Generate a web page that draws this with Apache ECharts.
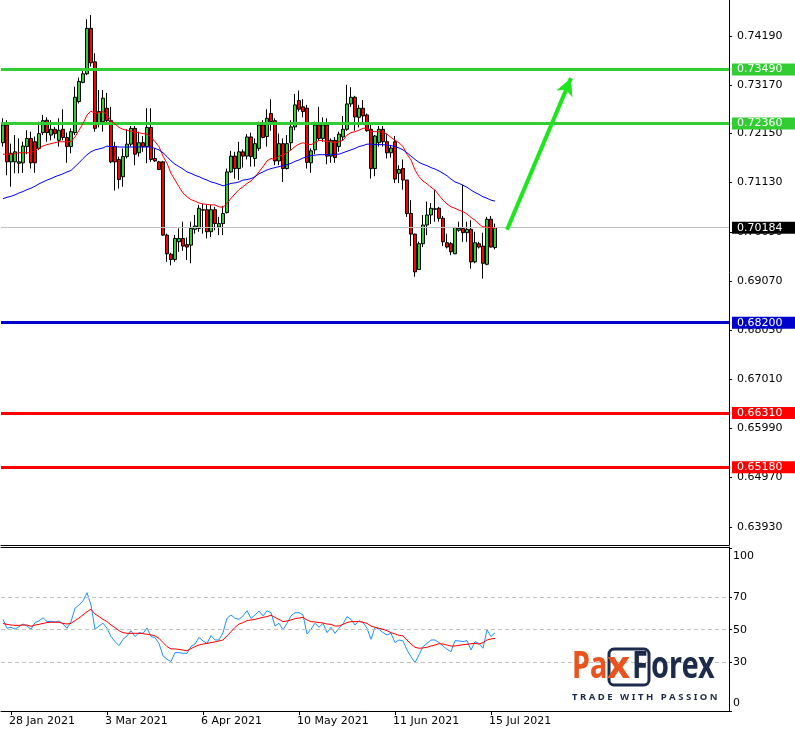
<!DOCTYPE html>
<html><head><meta charset="utf-8">
<script src="https://cdn.jsdelivr.net/npm/echarts@6/dist/echarts.min.js"></script>
<style>html,body{margin:0;padding:0;background:#fff}#c{width:795px;height:730px}</style>
</head><body><div id="c"></div><script>
// ---- data ----
const firstDate = '2021-01-26';
const slotCount = 182; // weekdays shown on the axis (incl. empty future area)
const dateTickLabels = ['2021-01-28','2021-03-03','2021-04-06','2021-05-10','2021-06-11','2021-07-15'];
const priceTicks = [0.7419,0.7317,0.7215,0.7113,0.7009,0.6907,0.6805,0.6701,0.6599,0.6497,0.6393];
const rsiTicks = [0,30,50,70,100];
const rsiLevels = [30,50,70];
const resistanceLevels = [0.7349,0.7236];
const supportLevel = [0.6820];
const targetLevels = [0.6631,0.6518];
const lastPrice = 0.70184;
const arrowFrom = ['2021-07-21',0.7014];
const arrowTo = ['2021-08-12',0.7331];

const opens = [0.7196,0.7233,0.7156,0.7156,0.7153,0.7154,0.7188,0.7205,0.7198,0.7184,0.7217,0.7243,0.7212,0.7224,0.7201,0.7224,0.7207,0.7188,0.7217,0.7282,
0.7322,0.7340,0.7435,0.7365,0.7238,0.7240,0.7268,0.7242,0.7188,0.7161,0.7125,0.7167,0.7193,0.7226,0.7175,0.7196,0.7188,0.7228,0.7163,0.7156,
0.7156,0.7003,0.6963,0.6952,0.6989,0.6996,0.6983,0.6982,0.7015,0.7017,0.7055,0.7056,0.7010,0.7056,0.7020,0.7027,0.7050,0.7135,0.7168,0.7142,
0.7177,0.7168,0.7208,0.7163,0.7184,0.7233,0.7209,0.7257,0.7242,0.7158,0.7194,0.7142,0.7196,0.7229,0.7284,0.7271,0.7268,0.7154,0.7181,0.7233,
0.7205,0.7233,0.7168,0.7201,0.7188,0.7208,0.7224,0.7277,0.7291,0.7249,0.7268,0.7254,0.7224,0.7142,0.7196,0.7224,0.7198,0.7175,0.7198,0.7132,
0.7142,0.7118,0.7048,0.7005,0.6931,0.6985,0.7024,0.7045,0.7057,0.7059,0.7038,0.6987,0.6985,0.6964,0.7013,0.7017,0.7008,0.7015,0.6947,0.6985,
0.6980,0.6942,0.7036,0.6977];
const highs = [0.7247,0.7243,0.7194,0.7212,0.7205,0.7198,0.7222,0.7219,0.7209,0.7240,0.7254,0.7249,0.7243,0.7229,0.7247,0.7266,0.7217,0.7226,0.7313,0.7332,
0.7348,0.7454,0.7463,0.7383,0.7306,0.7306,0.7300,0.7271,0.7198,0.7167,0.7184,0.7224,0.7231,0.7231,0.7219,0.7210,0.7268,0.7268,0.7184,0.7158,
0.7158,0.7006,0.6966,0.7003,0.7017,0.7031,0.6998,0.7031,0.7045,0.7066,0.7068,0.7066,0.7066,0.7062,0.7041,0.7064,0.7142,0.7179,0.7177,0.7198,
0.7182,0.7214,0.7217,0.7205,0.7240,0.7243,0.7266,0.7287,0.7247,0.7215,0.7205,0.7212,0.7243,0.7298,0.7305,0.7287,0.7275,0.7184,0.7240,0.7271,
0.7249,0.7247,0.7205,0.7208,0.7219,0.7252,0.7317,0.7312,0.7294,0.7275,0.7285,0.7257,0.7233,0.7212,0.7231,0.7231,0.7214,0.7190,0.7210,0.7149,
0.7161,0.7118,0.7076,0.7006,0.6989,0.7045,0.7073,0.7070,0.7097,0.7062,0.7043,0.7006,0.6989,0.7020,0.7031,0.7108,0.7031,0.7034,0.7010,0.6989,
0.7008,0.7041,0.7043,0.7027];
const lows = [0.7188,0.7128,0.7104,0.7132,0.7132,0.7133,0.7172,0.7142,0.7133,0.7181,0.7212,0.7198,0.7201,0.7205,0.7188,0.7201,0.7154,0.7174,0.7212,0.7278,
0.7320,0.7337,0.7355,0.7219,0.7228,0.7219,0.7238,0.7153,0.7096,0.7100,0.7104,0.7163,0.7188,0.7149,0.7167,0.7177,0.7153,0.7156,0.7156,0.7139,
0.7001,0.6947,0.6940,0.6947,0.6968,0.6970,0.6951,0.6944,0.7006,0.7010,0.7006,0.6996,0.6999,0.7013,0.7003,0.7003,0.7048,0.7133,0.7121,0.7118,
0.7144,0.7161,0.7146,0.7146,0.7179,0.7205,0.7188,0.7221,0.7149,0.7149,0.7114,0.7140,0.7181,0.7222,0.7261,0.7249,0.7142,0.7133,0.7172,0.7201,
0.7198,0.7151,0.7154,0.7154,0.7177,0.7201,0.7221,0.7271,0.7221,0.7228,0.7235,0.7219,0.7121,0.7126,0.7188,0.7188,0.7163,0.7165,0.7112,0.7112,
0.7098,0.7041,0.6980,0.6916,0.6930,0.6978,0.7003,0.7026,0.7031,0.7031,0.6980,0.6975,0.6961,0.6963,0.7010,0.6989,0.6989,0.6933,0.6944,0.6975,
0.6912,0.6940,0.6977,0.6973];
const closes = [0.7233,0.7156,0.7174,0.7177,0.7156,0.7189,0.7205,0.7154,0.7154,0.7215,0.7242,0.7217,0.7224,0.7215,0.7222,0.7207,0.7188,0.7219,0.7291,0.7324,
0.7340,0.7435,0.7363,0.7226,0.7261,0.7289,0.7242,0.7156,0.7156,0.7119,0.7167,0.7193,0.7226,0.7172,0.7196,0.7188,0.7228,0.7161,0.7158,0.7140,
0.7003,0.6964,0.6952,0.6996,0.6996,0.6980,0.6978,0.7017,0.7022,0.7059,0.7056,0.7010,0.7056,0.7027,0.7027,0.7048,0.7135,0.7168,0.7142,0.7177,
0.7168,0.7208,0.7167,0.7194,0.7233,0.7207,0.7247,0.7240,0.7158,0.7194,0.7142,0.7194,0.7229,0.7275,0.7266,0.7261,0.7155,0.7179,0.7233,0.7205,
0.7233,0.7168,0.7201,0.7165,0.7214,0.7224,0.7277,0.7291,0.7250,0.7268,0.7252,0.7221,0.7142,0.7210,0.7224,0.7198,0.7175,0.7185,0.7120,0.7140,
0.7118,0.7048,0.7005,0.6926,0.6985,0.7024,0.7045,0.7059,0.7058,0.7038,0.6989,0.6978,0.6968,0.7019,0.7017,0.7008,0.7015,0.6947,0.6987,0.6978,
0.6944,0.7036,0.6978,0.70184];
const maFast = [0.7172,0.7172,0.7172,0.7173,0.7175,0.7175,0.7175,0.7175,0.7180,0.7185,0.7189,0.7192,0.7194,0.7196,0.7198,0.7198,0.7198,0.7198,0.7208,0.7222,
0.7236,0.7254,0.7262,0.7257,0.7259,0.7261,0.7254,0.7242,0.7235,0.7228,0.7224,0.7222,0.7220,0.7218,0.7217,0.7215,0.7214,0.7208,0.7198,0.7188,
0.7168,0.7153,0.7132,0.7118,0.7104,0.7091,0.7083,0.7077,0.7074,0.7070,0.7068,0.7067,0.7066,0.7066,0.7062,0.7061,0.7069,0.7080,0.7089,0.7098,
0.7104,0.7111,0.7116,0.7125,0.7135,0.7146,0.7158,0.7163,0.7161,0.7168,0.7170,0.7175,0.7181,0.7188,0.7193,0.7196,0.7193,0.7192,0.7196,0.7201,
0.7200,0.7198,0.7198,0.7196,0.7198,0.7201,0.7212,0.7217,0.7219,0.7222,0.7226,0.7227,0.7220,0.7219,0.7219,0.7218,0.7214,0.7207,0.7201,0.7196,
0.7188,0.7172,0.7160,0.7139,0.7125,0.7116,0.7110,0.7103,0.7097,0.7086,0.7076,0.7068,0.7062,0.7059,0.7055,0.7052,0.7047,0.7040,0.7034,0.7026,
0.7020,0.7020,0.7019,0.7017];
const maSlow = [0.7079,0.7082,0.7084,0.7087,0.7091,0.7094,0.7098,0.7101,0.7105,0.7110,0.7114,0.7118,0.7121,0.7125,0.7128,0.7131,0.7135,0.7138,0.7146,0.7154,
0.7163,0.7171,0.7177,0.7181,0.7183,0.7185,0.7189,0.7188,0.7188,0.7187,0.7187,0.7187,0.7187,0.7187,0.7187,0.7187,0.7187,0.7187,0.7184,0.7181,
0.7175,0.7167,0.7158,0.7151,0.7146,0.7141,0.7135,0.7132,0.7128,0.7125,0.7121,0.7118,0.7114,0.7112,0.7109,0.7106,0.7108,0.7111,0.7112,0.7114,
0.7118,0.7119,0.7121,0.7125,0.7131,0.7135,0.7139,0.7142,0.7144,0.7146,0.7148,0.7150,0.7153,0.7157,0.7160,0.7164,0.7167,0.7169,0.7170,0.7171,
0.7171,0.7171,0.7171,0.7172,0.7172,0.7175,0.7178,0.7181,0.7184,0.7188,0.7190,0.7193,0.7193,0.7192,0.7192,0.7192,0.7191,0.7190,0.7188,0.7185,
0.7181,0.7175,0.7168,0.7161,0.7155,0.7151,0.7148,0.7144,0.7141,0.7137,0.7132,0.7127,0.7120,0.7114,0.7111,0.7107,0.7103,0.7097,0.7092,0.7088,
0.7083,0.7080,0.7076,0.7074];
const rsi = [56.4,50.9,51.5,50.3,51.9,53.5,52.3,50.3,54.4,55.4,57.4,55.0,55.2,54.8,55.4,53.5,50.9,55.0,63.2,65.2,
67.7,72.8,65.2,50.3,52.3,54.0,50.9,45.8,42.7,40.2,44.1,46.2,49.4,45.8,48.2,47.8,51.1,45.8,45.1,41.6,
33.9,31.8,30.4,35.9,35.9,35.5,35.5,39.6,41.2,45.3,43.1,41.6,46.4,43.7,43.7,48.2,57.0,59.1,57.0,56.4,
58.5,61.7,57.0,59.1,61.5,58.5,61.7,60.5,52.3,54.0,49.9,54.0,58.5,60.5,60.5,59.1,47.4,50.3,54.0,51.5,
54.0,48.2,51.5,47.8,50.9,53.5,58.1,56.4,52.9,55.6,54.4,50.9,44.1,51.5,50.3,48.2,46.8,47.8,42.1,43.7,
43.1,37.5,33.4,29.8,34.5,39.6,41.6,43.7,43.7,42.1,40.0,38.0,36.5,43.3,43.1,42.7,43.3,37.5,42.7,41.6,
38.6,49.9,45.8,48.2];
const rsiMa = [53.9,53.3,52.9,52.7,52.7,52.9,52.9,52.1,52.9,53.3,53.9,54.4,54.6,54.6,54.6,53.9,53.5,53.9,55.6,57.2,
59.1,61.1,62.6,59.7,58.1,56.4,55.0,52.9,51.3,49.4,48.2,47.8,47.8,47.8,47.8,47.6,47.2,46.8,46.2,44.7,
42.1,39.6,38.2,38.2,37.9,37.5,37.1,38.4,39.6,40.6,41.2,41.6,42.1,42.5,43.1,43.7,46.2,48.8,51.5,53.5,
54.4,55.6,56.0,56.4,57.0,57.6,58.1,58.9,57.6,56.4,55.0,55.4,56.0,56.8,57.2,57.6,56.0,55.0,54.8,54.4,
54.2,53.5,53.3,52.3,52.3,53.3,54.4,55.0,55.0,55.0,54.6,53.9,52.3,51.5,50.9,50.3,49.4,48.2,47.4,46.6,
46.2,43.7,41.2,39.2,38.6,38.8,39.2,40.0,40.6,41.4,41.2,40.6,40.0,40.0,40.4,40.8,41.0,41.4,41.6,41.2,
42.1,43.7,44.3,44.7];

// ---- build categories (weekday calendar) ----
const MONTHS = ['Jan','Feb','Mar','Apr','May','Jun','Jul','Aug','Sep','Oct','Nov','Dec'];
const dates = [];
{
  const d = new Date(firstDate + 'T00:00:00Z');
  while (dates.length < slotCount) {
    const wd = d.getUTCDay();
    if (wd !== 0 && wd !== 6) dates.push(d.toISOString().slice(0,10));
    d.setUTCDate(d.getUTCDate() + 1);
  }
}
const fmtDate = s => { const [y,m,dd] = s.split('-'); return (+dd) + ' ' + MONTHS[+m-1] + ' ' + y; };
const candles = opens.map((o,i) => [o, closes[i], lows[i], highs[i]]);
const showTick = (idx, val) => dateTickLabels.includes(val);

const FONT = 'DejaVu Sans';
const axisText = {color:'#000', fontFamily:FONT, fontSize:11};
const levelLabel = bg => ({show:true, position:'end', distance:3, formatter: p => Number(p.value).toFixed(5),
  color:'#fff', backgroundColor:bg, fontFamily:FONT, fontSize:11, padding:[1,14,0,5]});
const levelLine = (v, color, w) => ({yAxis:v, lineStyle:{color, width:w, type:'solid'}, label:levelLabel(color)});

const chart = echarts.init(document.getElementById('c'), null, {renderer:'canvas'});
chart.setOption({
  animation:false,
  backgroundColor:'#fff',
  grid:[
    {left:1, top:0, width:728, height:545},
    {left:1, top:547, width:728, height:164}
  ],
  xAxis:[
    {gridIndex:0, type:'category', data:dates, boundaryGap:true,
      axisLine:{show:true, lineStyle:{color:'#000', width:1}}, axisTick:{show:false}, axisLabel:{show:false}, splitLine:{show:false}},
    {gridIndex:1, type:'category', data:dates, boundaryGap:true, position:'bottom',
      axisLine:{show:true, lineStyle:{color:'#000', width:1}},
      axisTick:{show:true, interval:showTick, alignWithLabel:true, length:4, lineStyle:{color:'#000'}},
      axisLabel:Object.assign({show:true, interval:showTick, formatter:fmtDate, align:'left', margin:5, padding:[0,0,0,-2]}, axisText),
      splitLine:{show:false}},
    {gridIndex:1, type:'category', data:dates, boundaryGap:true, position:'top',
      axisLine:{show:true, lineStyle:{color:'#000', width:1}}, axisTick:{show:false}, axisLabel:{show:false}}
  ],
  yAxis:[
    {gridIndex:0, type:'value', position:'right', min:0.63554, max:0.74942,
      axisLine:{show:true, lineStyle:{color:'#000'}},
      axisTick:{show:true, customValues:priceTicks, length:3, lineStyle:{color:'#000'}},
      axisLabel:Object.assign({show:true, customValues:priceTicks, formatter:v => v.toFixed(5), margin:8}, axisText),
      splitLine:{show:false}},
    {gridIndex:1, type:'value', position:'right', min:0, max:100.9,
      axisLine:{show:true, lineStyle:{color:'#000'}},
      axisTick:{show:true, customValues:rsiTicks, length:3, lineStyle:{color:'#000'}},
      axisLabel:Object.assign({show:true, customValues:rsiTicks, margin:4,
        formatter:v => v === 100 ? '{t|100}' : (v === 0 ? '{b|0}' : String(v)),
        rich:{t:{padding:[15,0,0,0], fontFamily:FONT, fontSize:11, color:'#000'},
              b:{padding:[0,0,15,0], fontFamily:FONT, fontSize:11, color:'#000'}}}, axisText),
      splitLine:{show:false}}
  ],
  series:[
    {type:'candlestick', name:'Price', xAxisIndex:0, yAxisIndex:0, data:candles, barWidth:3, z:3,
      itemStyle:{color:'#32CD32', color0:'#FF0000', borderColor:'#000', borderColor0:'#000', borderWidth:1},
      markLine:{silent:true, symbol:['none','none'], precision:5, animation:false, z:4,
        data:[
          Object.assign(levelLine(lastPrice, '#000', 1), {lineStyle:{color:'#C0C0C0', width:1, type:'solid'}}),
          levelLine(resistanceLevels[0], '#32CD32', 3),
          levelLine(resistanceLevels[1], '#32CD32', 3),
          levelLine(supportLevel[0], '#0000CD', 3),
          levelLine(targetLevels[0], '#FF0000', 3),
          levelLine(targetLevels[1], '#FF0000', 3),
          [{coord:arrowFrom, symbol:'none', lineStyle:{color:'#1EE61E', width:4, type:'solid'}, label:{show:false}},
           {coord:arrowTo, symbol:'arrow', symbolSize:[13,17]}]
        ]
      }},
    {type:'line', name:'MA fast', xAxisIndex:0, yAxisIndex:0, data:maFast, showSymbol:false, symbol:'none', z:5,
      lineStyle:{color:'#FF0000', width:1}},
    {type:'line', name:'MA slow', xAxisIndex:0, yAxisIndex:0, data:maSlow, showSymbol:false, symbol:'none', z:5,
      lineStyle:{color:'#0000FF', width:1}},
    {type:'line', name:'RSI', xAxisIndex:1, yAxisIndex:1, data:rsi, showSymbol:false, symbol:'none', z:4,
      lineStyle:{color:'#1E90FF', width:1},
      markLine:{silent:true, symbol:['none','none'], precision:2, animation:false, label:{show:false},
        data:rsiLevels.map(v => ({yAxis:v})),
        lineStyle:{color:'#C0C0C0', width:1, type:[4,3]}}},
    {type:'line', name:'RSI MA', xAxisIndex:1, yAxisIndex:1, data:rsiMa, showSymbol:false, symbol:'none', z:5,
      lineStyle:{color:'#FF0000', width:1}}
  ],
  graphic:[
    {type:'rect', shape:{x:609, y:649, width:40, height:36, r:5}, style:{fill:'none', stroke:'#1C2B4B', lineWidth:3}, z:10},
    {type:'text', x:572, y:667, scaleX:0.76, style:{text:'Pa', fill:'#E8531E', fontFamily:'Noto Sans', fontWeight:'bold', fontSize:38, verticalAlign:'middle'}, z:11},
    {type:'text', x:607, y:667, scaleX:1.05, style:{text:'x', fill:'#E8531E', fontFamily:'Noto Sans', fontWeight:'bold', fontSize:38, verticalAlign:'middle'}, z:11},
    {type:'text', x:632, y:667, scaleX:0.76, style:{text:'F', fill:'#1C2B4B', fontFamily:'Noto Sans', fontWeight:'bold', fontSize:38, verticalAlign:'middle'}, z:11},
    {type:'text', x:651, y:667, scaleX:0.76, style:{text:'orex', fill:'#1C2B4B', fontFamily:'Noto Sans', fontWeight:'bold', fontSize:38, verticalAlign:'middle'}, z:11},
    {type:'text', x:572, y:697, scaleX:1.06, style:{text:'T R A D E   W I T H   P A S S I O N', fill:'#1C2B4B', fontFamily:'Noto Sans', fontWeight:'bold', fontSize:9, verticalAlign:'middle'}, z:11}
  ]
});
</script></body></html>
